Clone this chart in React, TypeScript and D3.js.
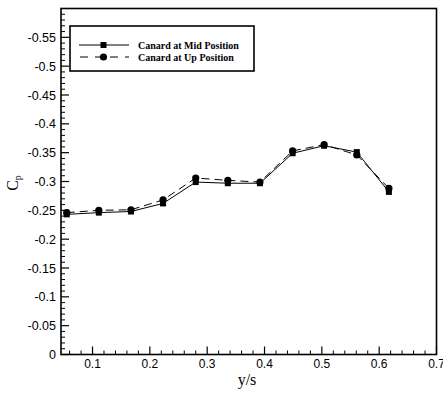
import React from "react";
import * as d3 from "d3";

const xValues = [0.055, 0.111, 0.167, 0.223, 0.28, 0.336, 0.392, 0.449, 0.504, 0.561, 0.617];
const midValues = [-0.243, -0.246, -0.248, -0.262, -0.299, -0.297, -0.297, -0.349, -0.362, -0.351, -0.282];
const upValues = [-0.246, -0.25, -0.251, -0.268, -0.306, -0.302, -0.299, -0.353, -0.364, -0.346, -0.288];
const seriesNames = ["Canard at Mid Position", "Canard at Up Position"];
const xTickValues = [0.1, 0.2, 0.3, 0.4, 0.5, 0.6, 0.7];
const yTickValues = [0, -0.05, -0.1, -0.15, -0.2, -0.25, -0.3, -0.35, -0.4, -0.45, -0.5, -0.55];

const W = 443;
const H = 394;
const L = 61, R = 436.5, T = 8.5, B = 354.5;
const SANS = "'Liberation Sans', Arial, Helvetica, sans-serif";
const SERIF = "'Liberation Serif', 'Times New Roman', Times, serif";

export default function App() {
  const x = d3.scaleLinear().domain([0.045, 0.7]).range([L, R]);
  const y = d3.scaleLinear().domain([0, -0.6]).range([B, T]);

  const xMinor = d3.range(0.06, 0.7001, 0.02).filter((v) => Math.abs(v * 10 - Math.round(v * 10)) > 1e-6);
  const yMinor = d3.range(0, 0.6001, 0.01).map((v) => -v).filter((v) => Math.abs(v * 20 - Math.round(v * 20)) > 1e-6);

  const line = d3
    .line<[number, number]>()
    .x((d) => x(d[0]))
    .y((d) => y(d[1]));
  const midPts: [number, number][] = xValues.map((v, i) => [v, midValues[i]]);
  const upPts: [number, number][] = xValues.map((v, i) => [v, upValues[i]]);

  const fmt = (v: number) => (v === 0 ? "0" : String(+v.toFixed(2)));

  return (
    <svg width={W} height={H} style={{ position: "absolute", left: 0, top: 0, background: "#fff" }}>
      <rect x={0} y={0} width={W} height={H} fill="#fff" />
      {/* data lines */}
      <path d={line(upPts) || ""} fill="none" stroke="#000" strokeWidth={1} strokeDasharray="8,5" />
      <path d={line(midPts) || ""} fill="none" stroke="#000" strokeWidth={1} />
      {upPts.map((d, i) => (
        <circle key={"u" + i} cx={x(d[0])} cy={y(d[1])} r={3.6} fill="#000" />
      ))}
      {midPts.map((d, i) => (
        <rect key={"m" + i} x={x(d[0]) - 3} y={y(d[1]) - 3} width={6} height={6} fill="#000" />
      ))}
      {/* frame */}
      <rect x={L} y={T} width={R - L} height={B - T} fill="none" stroke="#000" strokeWidth={1.6} />
      {/* x ticks */}
      {xTickValues.map((v) => (
        <g key={"xt" + v}>
          <line x1={x(v)} x2={x(v)} y1={B} y2={B - 8} stroke="#000" strokeWidth={1.2} />
          <text x={x(v)} y={368} textAnchor="middle" fontFamily={SANS} fontSize={12} fill="#000">
            {fmt(v)}
          </text>
        </g>
      ))}
      {xMinor.map((v) => (
        <line key={"xm" + v} x1={x(v)} x2={x(v)} y1={B} y2={B - 4} stroke="#000" strokeWidth={1} />
      ))}
      {/* y ticks */}
      {yTickValues.map((v) => (
        <g key={"yt" + v}>
          <line x1={L} x2={L + 8} y1={y(v)} y2={y(v)} stroke="#000" strokeWidth={1.2} />
          <text x={56} y={y(v) + 4.5} textAnchor="end" fontFamily={SANS} fontSize={12.5} fill="#000">
            {fmt(v)}
          </text>
        </g>
      ))}
      {yMinor.map((v) => (
        <line key={"ym" + v} x1={L} x2={L + 4} y1={y(v)} y2={y(v)} stroke="#000" strokeWidth={1} />
      ))}
      {/* axis titles */}
      <text x={247} y={385} textAnchor="middle" fontFamily={SERIF} fontSize={16} fill="#000">
        y/s
      </text>
      <text transform="translate(18,183) rotate(-90)" textAnchor="middle" fontFamily={SERIF} fontSize={16} fill="#000">
        C<tspan fontSize={10} dy={3}>p</tspan>
      </text>
      {/* legend */}
      <rect x={70} y={26} width={184} height={45} fill="#fff" stroke="#000" strokeWidth={1.6} />
      <line x1={79} x2={129} y1={45} y2={45} stroke="#000" strokeWidth={1} />
      <rect x={100.5} y={42} width={6} height={6} fill="#000" />
      <line x1={79} x2={129} y1={57} y2={57} stroke="#000" strokeWidth={1} strokeDasharray="8,7" strokeDashoffset={-1} />
      <circle cx={103.5} cy={57} r={3.6} fill="#000" />
      <text x={138} y={48.5} fontFamily={SERIF} fontWeight="bold" fontSize={10} fill="#000">
        {seriesNames[0]}
      </text>
      <text x={138} y={60.5} fontFamily={SERIF} fontWeight="bold" fontSize={10} fill="#000">
        {seriesNames[1]}
      </text>
    </svg>
  );
}
